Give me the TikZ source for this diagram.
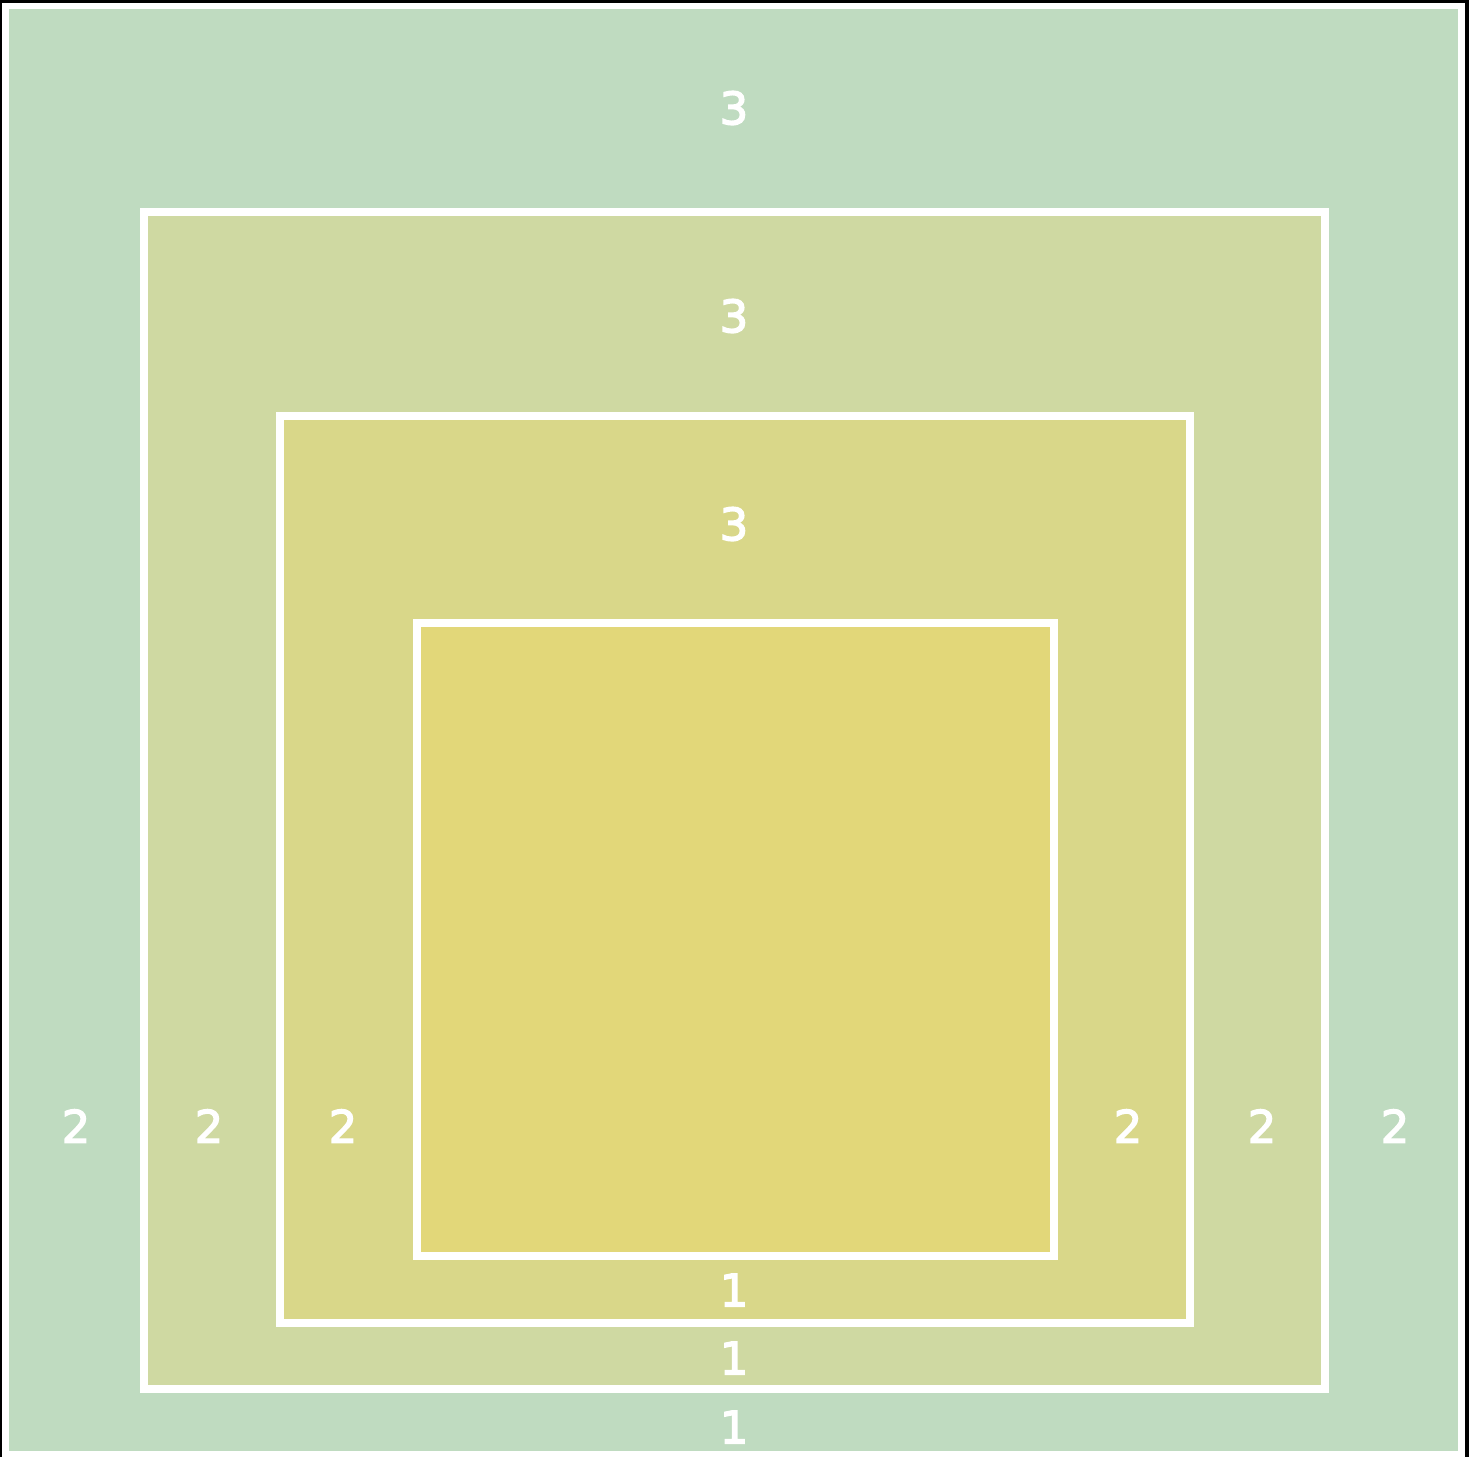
\documentclass[tikz,border=0pt]{standalone}
\usepackage{fontspec}
\newfontfamily\lblfont[FakeBold=3]{DejaVu Sans}
\definecolor{cA}{RGB}{191,219,192}
\definecolor{cB}{RGB}{207,217,162}
\definecolor{cC}{RGB}{217,215,137}
\definecolor{cD}{RGB}{226,215,121}
\tikzset{
  framebox/.style={draw=white, line width=0.16cm},
  lbl/.style={text=white, inner sep=0pt, font=\lblfont\fontsize{25.5}{30}\selectfont}
}
\begin{document}
\begin{tikzpicture}[x=0.02cm, y=-0.02cm]
\useasboundingbox (0,0) rectangle (1469,1457);
% screen frame
\fill[black] (0,0) rectangle (1469,1457);
\fill[white] (2,3) rectangle (1465,1457);
% nested boxes
\fill[cA] (9,9) rectangle (1458,1451);
\draw[framebox, fill=cB] (143.5,212) rectangle (1324.5,1388.5);
\draw[framebox, fill=cC] (280,416.3) rectangle (1190,1322.5);
\draw[framebox, fill=cD] (416.7,622.5) rectangle (1053.7,1256);
% labels
\node[lbl] (t1) at (734,108) {3};
\node[lbl] (t2) at (734,316) {3};
\node[lbl] (t3) at (734,524) {3};
\node[lbl] (l1) at (76,1126) {2};
\node[lbl] (l2) at (209,1126) {2};
\node[lbl] (l3) at (343,1126) {2};
\node[lbl] (r3) at (1128,1126) {2};
\node[lbl] (r2) at (1262,1126) {2};
\node[lbl] (r1) at (1395,1126) {2};
\node[lbl] (b3) at (734,1290) {1};
\node[lbl] (b2) at (734,1358) {1};
\node[lbl] (b1) at (734,1427) {1};
\end{tikzpicture}
\end{document}
